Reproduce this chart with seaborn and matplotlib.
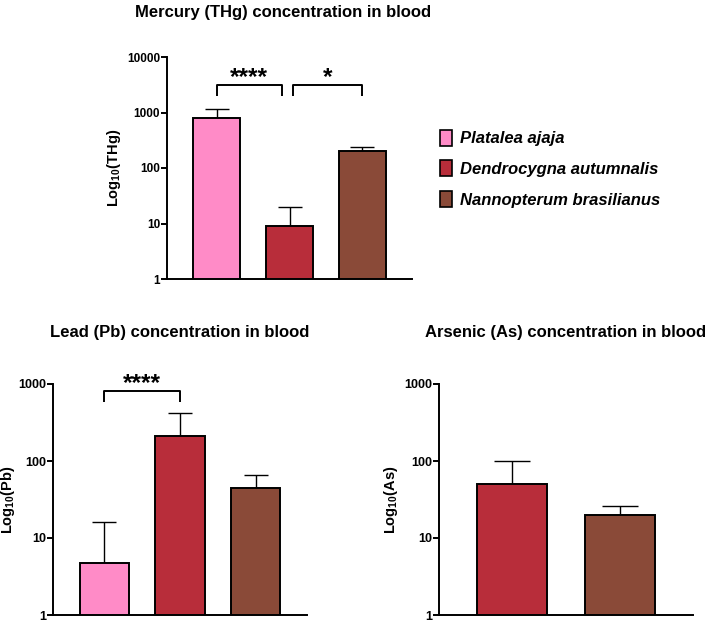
import numpy as np
import pandas as pd
import matplotlib
matplotlib.use("Agg")
import matplotlib.pyplot as plt
import seaborn as sns
from matplotlib.patches import Patch

# ---- data ----
species = ["Platalea ajaja", "Dendrocygna autumnalis", "Nannopterum brasilianus"]
colors = ["#FF8BC7", "#B82D3A", "#8A4A38"]

hg_mean = [805, 9.1, 205]
hg_upper = [1170, 19.8, 242]

pb_mean = [4.7, 209, 45]
pb_upper = [16, 415, 65]

as_species = ["Dendrocygna autumnalis", "Nannopterum brasilianus"]
as_mean = [50, 19.9]
as_upper = [100, 25.7]

hg_ticks = [1, 10, 100, 1000, 10000]
pb_ticks = [1, 10, 100, 1000]
as_ticks = [1, 10, 100, 1000]

# ---- style ----
sns.set_style("ticks")
plt.rcParams["font.family"] = ["Liberation Sans", "DejaVu Sans"]
plt.rcParams["font.weight"] = "bold"
plt.rcParams["text.color"] = "black"
plt.rcParams["axes.labelcolor"] = "black"
plt.rcParams["xtick.color"] = "black"
plt.rcParams["ytick.color"] = "black"
plt.rcParams["axes.edgecolor"] = "black"
plt.rcParams["mathtext.fontset"] = "custom"
plt.rcParams["mathtext.rm"] = "Liberation Sans:bold"
plt.rcParams["mathtext.bf"] = "Liberation Sans:bold"
plt.rcParams["mathtext.default"] = "rm"

W, H = 708, 621
fig = plt.figure(figsize=(W / 100, H / 100), dpi=100)


def px_axes(left, top, right, bottom):
    return fig.add_axes([left / W, 1 - bottom / H, (right - left) / W, (bottom - top) / H])


def panel(ax, cats, means, uppers, ticks, ylabel, capsize, tick_fs, labelpad):
    pal = dict(zip(species, colors))
    df = pd.DataFrame({"species": cats, "value": means})
    sns.barplot(data=df, x="species", y="value", hue="species", order=cats,
                hue_order=cats, palette=pal, saturation=1, width=0.65,
                edgecolor="black", linewidth=1.4, errorbar=None, legend=False,
                ax=ax, zorder=2)
    n = len(cats)
    m = np.array(means, dtype=float)
    u = np.array(uppers, dtype=float)
    ax.errorbar(np.arange(n), m, yerr=[np.zeros(n), u - m], fmt="none",
                ecolor="black", elinewidth=1.0, capsize=capsize, capthick=1.0,
                zorder=1)
    ax.set_yscale("log")
    ax.set_ylim(ticks[0], ticks[-1])
    ax.set_yticks(ticks)
    ax.set_yticklabels([str(t) for t in ticks])
    ax.minorticks_off()
    ax.set_xlim(-0.68, n - 1 + 0.68)
    ax.set_xticks([])
    ax.set_xlabel("")
    ax.set_ylabel(ylabel, fontsize=10.5, fontweight="bold", labelpad=labelpad,
                  color="black")
    for s in ["top", "right"]:
        ax.spines[s].set_visible(False)
    for s in ["left", "bottom"]:
        ax.spines[s].set_linewidth(1.4)
        ax.spines[s].set_color("black")
    ax.tick_params(axis="y", length=4, width=1.4, pad=1, labelsize=tick_fs,
                   colors="black")
    for lab in ax.get_yticklabels():
        lab.set_fontweight("bold")


def bracket(ax, x0, x1, ytop, ybot, text, fs=17.5):
    ax.plot([x0, x0, x1, x1], [ybot, ytop, ytop, ybot], color="black", lw=1.4,
            clip_on=False, solid_capstyle="butt")
    ax.annotate(text, xy=((x0 + x1) / 2, ytop), xytext=(0, 0.5),
                textcoords="offset points", ha="center", va="baseline",
                fontsize=fs, fontweight="bold", color="black",
                annotation_clip=False)


# Mercury
ax1 = px_axes(167, 57, 412, 279)
panel(ax1, species, hg_mean, hg_upper, hg_ticks, r"Log$_{10}$(THg)", 8.6, 8.5, 3)
bracket(ax1, 0.0, 0.9, 3126, 1983, "****")
bracket(ax1, 1.05, 2.0, 3126, 1983, "*")
fig.text(283 / W, 1 - 12 / H, "Mercury (THg) concentration in blood",
         ha="center", va="center", fontsize=12, fontweight="bold")

# Lead
ax2 = px_axes(53, 384, 307, 615)
panel(ax2, species, pb_mean, pb_upper, pb_ticks, r"Log$_{10}$(Pb)", 8.9, 9, 1)
bracket(ax2, 0.0, 1.0, 818, 577, "****")
fig.text(180 / W, 1 - 332 / H, "Lead (Pb) concentration in blood",
         ha="center", va="center", fontsize=12, fontweight="bold")

# Arsenic
ax3 = px_axes(439, 384, 693, 615)
panel(ax3, as_species, as_mean, as_upper, as_ticks, r"Log$_{10}$(As)", 13, 9, 3)
fig.text(566 / W, 1 - 332 / H, "Arsenic (As) concentration in blood",
         ha="center", va="center", fontsize=12, fontweight="bold")

# Legend
handles = [Patch(facecolor=c, edgecolor="black", linewidth=1.2) for c in colors]
fig.legend(handles, species, loc="upper left", bbox_to_anchor=(433 / W, 1 - 123 / H),
           frameon=False, prop={"style": "italic", "weight": "bold", "size": 12},
           handlelength=0.75, handleheight=1.1, handletextpad=0.45, labelspacing=0.85,
           borderaxespad=0)

fig.savefig("out.png", dpi=100)
